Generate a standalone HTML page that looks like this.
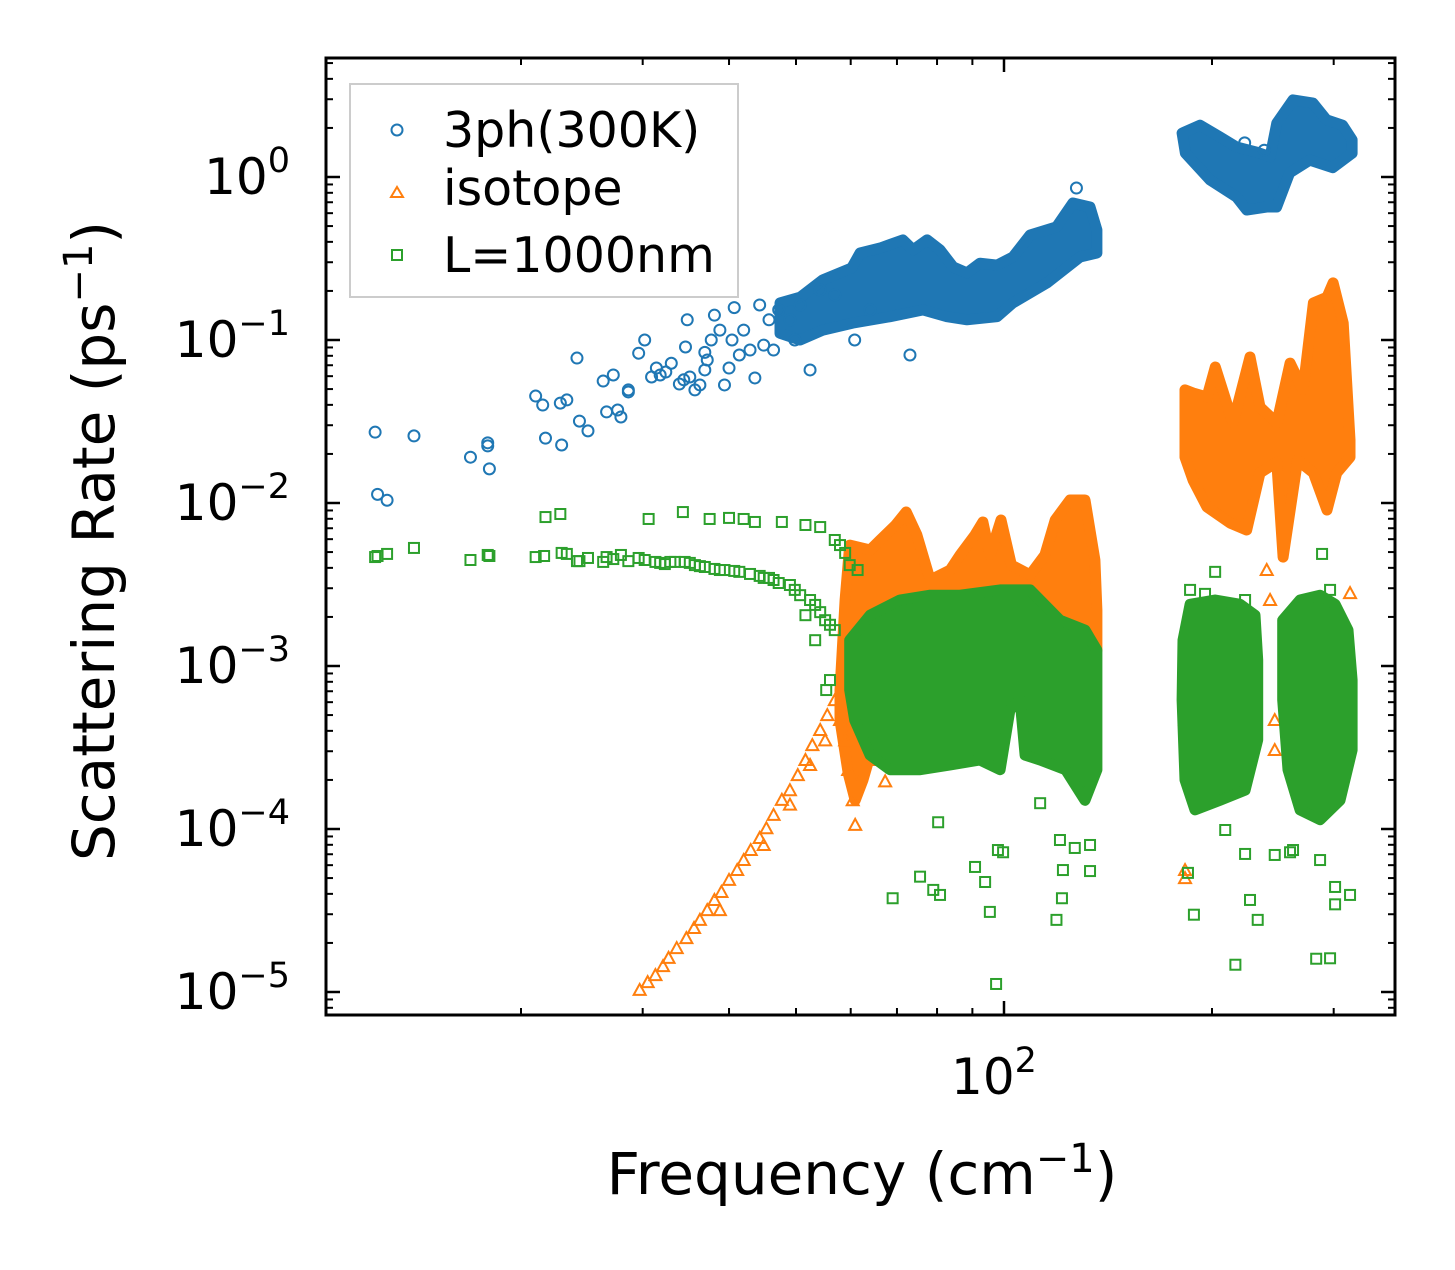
<!DOCTYPE html>
<html><head><meta charset="utf-8"><style>
html,body{margin:0;padding:0;background:#fff;}
svg text{font-family:"DejaVu Sans","Liberation Sans",sans-serif;fill:#000;}
</style></head><body>
<svg id="chart" width="1455" height="1265" viewBox="0 0 1455 1265" xmlns="http://www.w3.org/2000/svg">
<rect x="0" y="0" width="1455" height="1265" fill="#fff"/>
<g id="marks"></g>
<g id="axes"></g>
<text x="862" y="1194" font-size="58" text-anchor="middle">Frequency (cm<tspan dy="-22" font-size="40">−1</tspan><tspan dy="22">)</tspan></text>
<text transform="translate(114,541) rotate(-90)" font-size="58" text-anchor="middle">Scattering Rate (ps<tspan dy="-22" font-size="40">−1</tspan><tspan dy="22">)</tspan></text>
<g>
<rect x="350" y="84" width="388" height="213" fill="#fff" fill-opacity="0.8" stroke="#ccc" stroke-width="2"/>
<g><circle cx="397" cy="130" r="5.5" fill="none" stroke="#1f77b4" stroke-width="2"/><text x="443" y="147" font-size="49">3ph(300K)</text></g>
<g><path d="M391,197 L397,187 L403,197 Z" fill="none" stroke="#ff7f0e" stroke-width="2"/><text x="443" y="205" font-size="49">isotope</text></g>
<g><rect x="392" y="250" width="10" height="10" fill="none" stroke="#2ca02c" stroke-width="2"/><text x="443" y="272" font-size="49">L=1000nm</text></g>
</g>
</svg>
<script>
// ---- data ----
const blueFreq = [12.3,12.4,12.8,14.0,16.9,17.9,17.9,18.0,21.0,21.5,21.7,22.8,22.9,23.3,24.1,24.3,25.0,26.3,26.6,27.2,27.6,27.9,28.6,28.6,29.6,30.2,30.9,31.4,31.8,32.4,33.0,33.9,34.4,34.6,34.8,35.1,35.7,36.3,36.9,36.9,37.2,37.7,38.1,38.8,39.4,40.0,40.4,40.7,41.4,42.0,42.9,43.6,44.3,44.9,45.7,46.4,47.2,49.0,49.8,50.7,52.4,54.2,56.9,60.8,64.0,73.1,127.3,223,238];
const blueRate = [2.72e-2,1.13e-2,1.04e-2,2.58e-2,1.91e-2,2.34e-2,2.24e-2,1.62e-2,4.53e-2,3.99e-2,2.5e-2,4.1e-2,2.27e-2,4.29e-2,7.75e-2,3.18e-2,2.77e-2,5.6e-2,3.62e-2,6.1e-2,3.72e-2,3.37e-2,4.94e-2,4.8e-2,8.3e-2,0.1,5.93e-2,6.73e-2,6.1e-2,6.36e-2,7.2e-2,5.37e-2,5.7e-2,9.06e-2,0.133,5.93e-2,4.94e-2,5.3e-2,8.4e-2,6.55e-2,7.54e-2,0.1,0.142,0.115,5.3e-2,6.73e-2,0.1,0.158,8.09e-2,0.115,8.68e-2,5.85e-2,0.164,9.3e-2,0.133,8.68e-2,0.153,0.133,0.1,0.164,6.55e-2,0.203,0.189,0.1,0.153,8.09e-2,0.856,1.62,1.46];
// dense-region envelopes (outline traced clockwise)
const blueBand1Freq = [47.4,50.7,54.7,60.2,61.9,66.2,71.4,73.9,77.4,80.8,84.4,88.4,92.3,97.7,103.0,109.1,119.1,125.8,133.2,136.3,136.3,128.8,115.4,103.0,97.7,88.4,82.7,76.4,68.4,60.4,54.7,50.7,47.4];
const blueBand1Rate = [0.169,0.183,0.234,0.277,0.342,0.367,0.411,0.357,0.411,0.357,0.281,0.258,0.296,0.288,0.323,0.441,0.494,0.693,0.655,0.473,0.342,0.323,0.224,0.169,0.139,0.133,0.139,0.153,0.139,0.127,0.115,0.100,0.110];
const blueBand2Freq = [181,192.2,205.4,216.9,232.3,242.7,248.2,262,280,293,309,319,319,299,277,259,248,240,224.5,217,198.7,183];
const blueBand2Rate = [1.86,2.08,1.76,1.53,1.42,1.33,2.14,2.97,2.84,2.24,2.08,1.69,1.40,1.14,1.27,1.06,0.655,0.655,0.627,0.754,0.958,1.40];

const isoFreq = [29.7,30.5,31.3,32.1,32.7,33.6,34.7,35.6,36.3,37.2,38.1,39.0,40.0,41.1,42.0,43.0,44.3,45.3,46.4,47.7,49.0,50.3,51.6,52.8,54.2,55.5,56.9,38.8,44.9,49.0,52.4,55.1,57.9,58.9,59.5,60.4,60.9,66.2,67.3,65.1,182.8,182.8,316.8,246.5,246.5,242.7,240,182.8];
const isoRate = [1.03e-5,1.15e-5,1.27e-5,1.44e-5,1.62e-5,1.86e-5,2.14e-5,2.47e-5,2.77e-5,3.18e-5,3.67e-5,4.11e-5,4.87e-5,5.6e-5,6.45e-5,7.43e-5,8.81e-5,1.01e-4,1.22e-4,1.51e-4,1.73e-4,2.14e-4,2.65e-4,3.27e-4,4.05e-4,5.0e-4,6.17e-4,3.18e-5,7.97e-5,1.41e-4,2.47e-4,3.5e-4,4.66e-4,3.5e-4,2.3e-4,1.5e-4,1.06e-4,6.19e-4,1.96e-4,2.65e-4,5.6e-5,5.0e-5,2.8e-3,4.66e-4,3.05e-4,2.54e-3,3.88e-3,4.66e-4];
const isoBand1Freq = [57.9,58.9,59.8,64.0,66.2,69.7,72.2,74.8,78.2,83.6,86.4,90.8,93.2,95.4,99.0,102.5,109.1,114.6,118.6,124.6,131.0,135.4,136.3,136.3,116.6,86.4,66.2,62.5,60.9,59.5,57.9];
const isoBand1Rate = [7.12e-4,2.54e-3,5.52e-3,5.15e-3,5.93e-3,7.33e-3,8.81e-3,6.36e-3,3.37e-3,3.88e-3,4.80e-3,6.36e-3,7.65e-3,4.80e-3,7.87e-3,4.16e-3,3.62e-3,4.80e-3,7.87e-3,1.043e-2,1.043e-2,4.47e-3,2.20e-3,1.25e-3,1.09e-3,9.45e-4,4.66e-4,2.0e-4,1.5e-4,2.2e-4,4.66e-4];
const isoBand2Freq = [182.8,187.8,196.7,202.2,214.5,227,234.7,248.2,259.4,270.8,280.4,293.4,299.4,309.7,316.8,316.8,303,293.4,280.4,266,253.5,248.2,234.7,224.5,212.4,196.7,187.8,182.8];
const isoBand2Rate = [0.0494,0.0473,0.0447,0.0683,0.0310,0.0787,0.0388,0.0310,0.0722,0.0494,0.169,0.183,0.224,0.127,0.0244,0.0191,0.0153,0.00906,0.0153,0.0183,0.00466,0.0178,0.0153,0.00683,0.00754,0.00945,0.0138,0.0191];

const bndFreq = [12.3,12.4,12.8,14.0,16.9,17.9,18.0,21.0,21.6,21.7,22.8,22.9,23.3,24.1,24.3,25.0,26.3,26.6,27.2,27.9,28.6,29.6,30.2,30.6,31.3,31.8,32.3,32.9,33.4,34.3,34.5,35.1,35.7,36.3,36.9,37.5,38.1,38.8,39.4,40.0,40.7,41.4,42.0,42.9,43.6,44.3,44.9,45.7,46.4,47.2,47.7,49.0,49.8,50.7,51.6,52.4,53.3,54.2,54.2,55.1,56.0,56.9,56.9,57.9,58.9,59.8,61.4,51.6,53.3,55.3,56.0,
69.0,75.6,79.0,80.8,80.3,90.8,93.9,98.0,95.4,97.4,99.7,112.8,119.1,121.3,121.7,133.2,133.2,120.5,126.6,
184.6,188.3,202.1,223.3,216.2,227,232.9,288.6,296.4,283,262,259.4,286.7,301.4,301.4,209,195.4,185.9,223.3,296.4,246.5,316.8];
const bndRate = [4.66e-3,4.73e-3,4.87e-3,5.3e-3,4.47e-3,4.8e-3,4.73e-3,4.66e-3,4.73e-3,8.2e-3,8.56e-3,4.94e-3,4.87e-3,4.4e-3,4.4e-3,4.6e-3,4.35e-3,4.66e-3,4.53e-3,4.8e-3,4.4e-3,4.6e-3,4.47e-3,7.98e-3,4.35e-3,4.29e-3,4.22e-3,4.35e-3,4.35e-3,8.8e-3,4.35e-3,4.29e-3,4.16e-3,4.1e-3,4.05e-3,7.98e-3,3.94e-3,3.88e-3,3.88e-3,8.1e-3,3.83e-3,3.78e-3,7.98e-3,3.67e-3,7.65e-3,3.57e-3,3.47e-3,3.47e-3,3.37e-3,3.23e-3,7.65e-3,3.14e-3,2.93e-3,2.72e-3,7.33e-3,2.54e-3,2.37e-3,7.12e-3,2.14e-3,1.91e-3,1.79e-3,5.93e-3,1.66e-3,5.52e-3,4.94e-3,4.16e-3,3.88e-3,2.05e-3,1.44e-3,7.12e-4,8.2e-4,
3.76e-5,5.1e-5,4.23e-5,3.94e-5,1.1e-4,5.85e-5,4.73e-5,7.43e-5,3.1e-5,1.12e-5,7.2e-5,1.44e-4,2.77e-5,3.76e-5,5.6e-5,5.52e-5,7.98e-5,8.56e-5,7.65e-5,
5.38e-5,2.98e-5,3.78e-3,7.03e-5,1.47e-5,3.67e-5,2.77e-5,4.87e-3,1.61e-5,1.6e-5,7.43e-5,7.2e-5,6.45e-5,4.41e-5,3.45e-5,9.86e-5,2.77e-3,2.93e-3,2.54e-3,2.93e-3,6.93e-5,3.94e-5];
const bndBand1Freq = [59.8,64.0,70.7,78.2,86.4,98.7,109.1,120.5,131.0,136.3,136.3,131.0,122.8,112.8,107.3,105.5,102.0,98.7,92.3,83.6,75.6,68.4,64.0,60.8,59.8];
const bndBand1Rate = [1.44e-3,2.05e-3,2.54e-3,2.72e-3,2.72e-3,2.93e-3,2.93e-3,1.91e-3,1.66e-3,1.25e-3,2.31e-4,1.5e-4,2.31e-4,2.65e-4,2.84e-4,6.19e-4,5.37e-4,2.31e-4,2.65e-4,2.47e-4,2.31e-4,2.31e-4,2.84e-4,4.66e-4,7.12e-4];
const bndBand2Freq = [181.6,185.9,202.1,219.6,230.8,232.9,232.9,223.3,205.4,189.0,182.8,181.0];
const bndBand2Rate = [1.44e-3,2.39e-3,2.54e-3,2.39e-3,2.05e-3,1.09e-3,3.52e-4,1.73e-4,1.5e-4,1.31e-4,2.0e-4,6.19e-4];
const bndBand3Freq = [253.1,268.2,286.7,301.4,314.6,319,319,306.4,286.7,268.2,257.6,253.1];
const bndBand3Rate = [1.91e-3,2.54e-3,2.72e-3,2.39e-3,1.66e-3,8.2e-4,3.05e-4,1.5e-4,1.14e-4,1.31e-4,2.31e-4,6.19e-4];

const yTickExps = [0,-1,-2,-3,-4,-5];
const xTickExps = [2];
const xMinorTicks = [20,30,40,50,60,70,80,90,200,300];

// ---- axes ----
const L=326,R=1395,T=58,B=1015;
const X100=1004, XD=691, Y1=177, YD=163;
function sx(f){return X100+(Math.log10(f)-2)*XD;}
function sy(r){return Y1-Math.log10(r)*YD;}
const NS='http://www.w3.org/2000/svg';
const marks=document.getElementById('marks');
const axes=document.getElementById('axes');
function mk(tag,attrs,parent){const e=document.createElementNS(NS,tag);for(const k in attrs)e.setAttribute(k,attrs[k]);parent.appendChild(e);return e;}

const COL={b:'#1f77b4',o:'#ff7f0e',g:'#2ca02c'};
function band(fr,rt,col,name){
  let d='';
  for(let i=0;i<fr.length;i++){d+=(i?'L':'M')+sx(fr[i]).toFixed(1)+','+sy(rt[i]).toFixed(1);}
  const p=mk('path',{d:d+'Z',fill:col,stroke:col,'stroke-width':11,'stroke-linejoin':'round'},marks);
  
  
}
function circles(fr,rt){
  for(let i=0;i<fr.length;i++){
    const c=mk('circle',{cx:sx(fr[i]),cy:sy(rt[i]),r:5.5,fill:'none',stroke:COL.b,'stroke-width':2},marks);
    
    
  }
}
function tris(fr,rt){
  for(let i=0;i<fr.length;i++){
    const x=sx(fr[i]),y=sy(rt[i]);
    const t=mk('path',{d:`M${x-6},${y+5} L${x},${y-6} L${x+6},${y+5} Z`,fill:'none',stroke:COL.o,'stroke-width':2},marks);
    
    
  }
}
function squares(fr,rt){
  for(let i=0;i<fr.length;i++){
    const x=sx(fr[i]),y=sy(rt[i]);
    const s=mk('rect',{x:x-5,y:y-5,width:10,height:10,fill:'none',stroke:COL.g,'stroke-width':2},marks);
    
    
  }
}
band(blueBand1Freq,blueBand1Rate,COL.b,'3ph-dense-low');
band(blueBand2Freq,blueBand2Rate,COL.b,'3ph-dense-high');
circles(blueFreq,blueRate);
band(isoBand1Freq,isoBand1Rate,COL.o,'isotope-dense-low');
band(isoBand2Freq,isoBand2Rate,COL.o,'isotope-dense-high');
tris(isoFreq,isoRate);
band(bndBand1Freq,bndBand1Rate,COL.g,'boundary-dense-low');
band(bndBand2Freq,bndBand2Rate,COL.g,'boundary-dense-mid');
band(bndBand3Freq,bndBand3Rate,COL.g,'boundary-dense-high');
squares(bndFreq,bndRate);

// frame
const fr=mk('rect',{x:L,y:T,width:R-L,height:B-T,fill:'none',stroke:'#000','stroke-width':3},axes);


function line(x1,y1,x2,y2,w){mk('line',{x1,y1,x2,y2,stroke:'#000','stroke-width':w},axes);}
// y ticks
for(const e of yTickExps){
  const y=sy(Math.pow(10,e));
  line(L,y,L+14,y,2.5); line(R,y,R-14,y,2.5);
  const t=mk('text',{x:290,y:y+17,'font-size':50,'text-anchor':'end'},axes);
  
  
  t.innerHTML='10<tspan dy="-22" font-size="35">'+(e<0?'−'+(-e):e)+'</tspan>';
}
for(let e=-6;e<=1;e++){for(let m=2;m<=9;m++){const y=sy(m*Math.pow(10,e));if(y>T+2&&y<B-2){line(L,y,L+7,y,2);line(R,y,R-7,y,2);}}}
// x ticks
for(const e of xTickExps){
  const x=sx(Math.pow(10,e));
  line(x,B,x,B-14,2.5); line(x,T,x,T+14,2.5);
  const t=mk('text',{x:x-10,y:1094,'font-size':50,'text-anchor':'middle'},axes);
  
  
  t.innerHTML='10<tspan dy="-22" font-size="35">'+e+'</tspan>';
}
for(const v of xMinorTicks){const x=sx(v);line(x,B,x,B-7,2);line(x,T,x,T+7,2);}
</script>
</body></html>
